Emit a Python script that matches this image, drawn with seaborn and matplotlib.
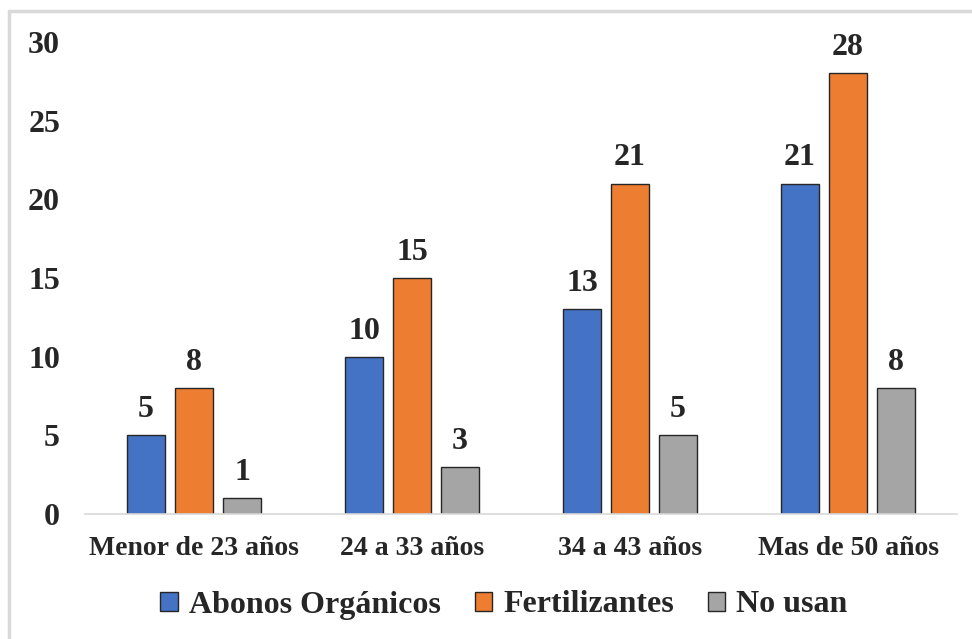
import pandas as pd
import matplotlib.pyplot as plt
import seaborn as sns
from matplotlib.lines import Line2D

# ---------- datos ----------
grupos = ['Menor de 23 años', '24 a 33 años', '34 a 43 años', 'Mas de 50 años']
series = ['Abonos Orgánicos', 'Fertilizantes', 'No usan']
abonos = [5, 10, 13, 21]
fertilizantes = [8, 15, 21, 28]
no_usan = [1, 3, 5, 8]
colores = ['#4472C4', '#ED7D31', '#A5A5A5']

df = pd.DataFrame({
    'grupo': grupos * 3,
    'serie': [s for s in series for _ in grupos],
    'valor': abonos + fertilizantes + no_usan,
})

sns.set_style('white')
plt.rcParams['font.family'] = ['Liberation Serif', 'DejaVu Serif']
plt.rcParams['font.weight'] = 'bold'

fig = plt.figure(figsize=(9.72, 6.39), dpi=100)
ax = fig.add_axes([85 / 972, 1 - 514 / 639, 872 / 972, 472 / 639])

sns.barplot(data=df, x='grupo', y='valor', hue='serie', hue_order=series,
            order=grupos, palette=colores, saturation=1, width=0.66, gap=0.2,
            edgecolor='#262626', linewidth=1.0, ax=ax, legend=False)

for cont in ax.containers:
    ax.bar_label(cont, padding=8, fontsize=23, fontweight='bold')

ax.set_ylim(0, 30)
ax.set_yticks([0, 5, 10, 15, 20, 25, 30])
ax.set_xlim(-0.5, 3.5)
ax.set_xlabel('')
ax.set_ylabel('')
ax.tick_params(axis='y', labelsize=23, pad=18, length=0)
ax.tick_params(axis='x', labelsize=20, pad=16, length=0)
for lab in ax.get_xticklabels() + ax.get_yticklabels():
    lab.set_fontweight('bold')

for s in ['top', 'right', 'left']:
    ax.spines[s].set_visible(False)
ax.spines['bottom'].set_color('#d9d9d9')
ax.spines['bottom'].set_linewidth(1.2)

handles = [plt.Rectangle((0, 0), 1, 1, facecolor=c, edgecolor='#262626', linewidth=1.0)
           for c in colores]
fig.legend(handles, series, loc='center', bbox_to_anchor=(504 / 972, 1 - 605 / 639),
           ncol=3, frameon=False, prop={'size': 23, 'weight': 'bold'},
           handlelength=0.55, handleheight=0.55, handletextpad=0.35, columnspacing=1.05)

# marco recortado (solo bordes superior e izquierdo visibles)
fig.add_artist(Line2D([9 / 972, 1], [1 - 11 / 639] * 2, color='#d9d9d9', lw=2.5,
                      transform=fig.transFigure))
fig.add_artist(Line2D([9 / 972] * 2, [0, 1 - 11 / 639], color='#d9d9d9', lw=2.5,
                      transform=fig.transFigure))

fig.savefig('out.png', dpi=100)
